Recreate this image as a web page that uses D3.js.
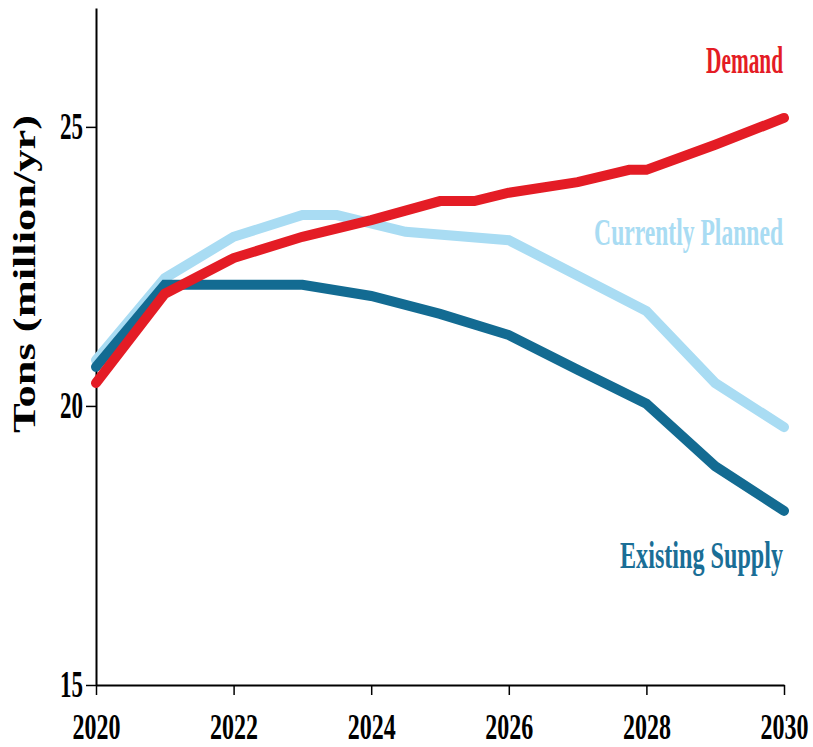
<!DOCTYPE html>
<html>
<head>
<meta charset="utf-8">
<script src="https://cdn.jsdelivr.net/npm/d3@7"></script>
<style>
  html, body { margin: 0; padding: 0; background: #fff; }
  svg { display: block; }
</style>
</head>
<body>
<svg id="chart" width="813" height="747"></svg>
<script>
// ---- data ----
const demandYears    = [2020, 2021, 2022, 2023, 2024, 2025, 2025.5, 2026, 2027, 2027.75, 2028, 2029, 2030];
const demandValues   = [20.41, 22.01, 22.65, 23.03, 23.33, 23.67, 23.67, 23.82, 24.01, 24.23, 24.23, 24.68, 25.16];

const plannedYears   = [2020, 2021, 2022, 2023, 2023.5, 2024.5, 2026, 2028, 2029, 2030];
const plannedValues  = [20.82, 22.29, 23.03, 23.42, 23.42, 23.12, 22.97, 21.70, 20.41, 19.62];

const existingYears  = [2020, 2021, 2022, 2023, 2024, 2025, 2026, 2027, 2028, 2029, 2030];
const existingValues = [20.70, 22.17, 22.17, 22.17, 21.97, 21.65, 21.27, 20.65, 20.04, 18.92, 18.12];

const xTicks = [2020, 2022, 2024, 2026, 2028, 2030];
const yTicks = [15, 20, 25];
const seriesNames = ["Currently Planned", "Existing Supply", "Demand"];
const yTitle = "Tons (million/yr)";

// ---- layout ----
const svg = d3.select("#chart");
const mLeft = 96, mRight = 784, mTop = 8, mBottom = 685;
const x = d3.scaleLinear().domain([2020, 2030]).range([mLeft, mRight]);
const y = d3.scaleLinear().domain([15, 27.13]).range([mBottom, mTop]);

const font = "'Liberation Serif', 'Times New Roman', serif";

// squeeze a text horizontally (in its own frame) to a target width
function squeeze(sel, target, pre) {
  sel.each(function() {
    const w = this.getComputedTextLength();
    const s = w > 0 ? target / w : 1;
    d3.select(this).attr("transform", `${pre || ""} scale(${s},1)`);
  });
}

// axes
const xAxis = svg.append("g")
  .attr("transform", `translate(0,${mBottom})`)
  .call(d3.axisBottom(x).tickValues(xTicks).tickFormat(d3.format("d")).tickSize(10).tickSizeOuter(0));
xAxis.select(".domain").attr("stroke", "#000").attr("stroke-width", 2);
xAxis.selectAll(".tick line").attr("stroke", "#000").attr("stroke-width", 1.5);
const xt = xAxis.selectAll(".tick text")
  .attr("x", 0).attr("y", 54).attr("dy", 0)
  .attr("font-family", font).attr("font-weight", "bold").attr("font-size", 35)
  .attr("fill", "#000");
squeeze(xt, 48);

const yAxis = svg.append("g")
  .attr("transform", `translate(${mLeft},0)`)
  .call(d3.axisLeft(y).tickValues(yTicks).tickFormat(d3.format("d")).tickSize(10).tickSizeOuter(0));
yAxis.select(".domain").attr("stroke", "#000").attr("stroke-width", 2);
yAxis.selectAll(".tick line").attr("stroke", "#000").attr("stroke-width", 1.5);
const yt = yAxis.selectAll(".tick text")
  .attr("x", 0).attr("dy", "0.32em")
  .attr("font-family", font).attr("font-weight", "bold").attr("font-size", 37)
  .attr("fill", "#000");
squeeze(yt, 23, "translate(-13,0)");

// y title
const title = svg.append("text")
  .attr("text-anchor", "middle")
  .attr("font-family", font).attr("font-weight", "bold").attr("font-size", 31)
  .attr("fill", "#000")
  .text(yTitle);
squeeze(title, 318, "translate(35,274) rotate(-90)");

// lines
const line = d3.line().x(d => x(d[0])).y(d => y(d[1]));
const series = [
  { name: seriesNames[0], years: plannedYears,  values: plannedValues,  color: "#a9dcf3" },
  { name: seriesNames[1], years: existingYears, values: existingValues, color: "#136b92" },
  { name: seriesNames[2], years: demandYears,   values: demandValues,   color: "#e41c25" }
];
series.forEach(s => {
  svg.append("path")
    .datum(s.years.map((yr, i) => [yr, s.values[i]]))
    .attr("d", line)
    .attr("fill", "none")
    .attr("stroke", s.color)
    .attr("stroke-width", 10)
    .attr("stroke-linecap", "round")
    .attr("stroke-linejoin", "miter");
});

// series labels
const labels = [
  { text: seriesNames[2], color: "#e41c25", yPos: 73,  len: 77 },
  { text: seriesNames[0], color: "#a9dcf3", yPos: 245, len: 189 },
  { text: seriesNames[1], color: "#1a6e96", yPos: 568, len: 163 }
];
labels.forEach(l => {
  const t = svg.append("text")
    .attr("x", 0).attr("y", 0)
    .attr("text-anchor", "end")
    .attr("font-family", font).attr("font-weight", "bold").attr("font-size", 38)
    .attr("fill", l.color)
    .text(l.text);
  squeeze(t, l.len, `translate(783,${l.yPos})`);
});
</script>
</body>
</html>
